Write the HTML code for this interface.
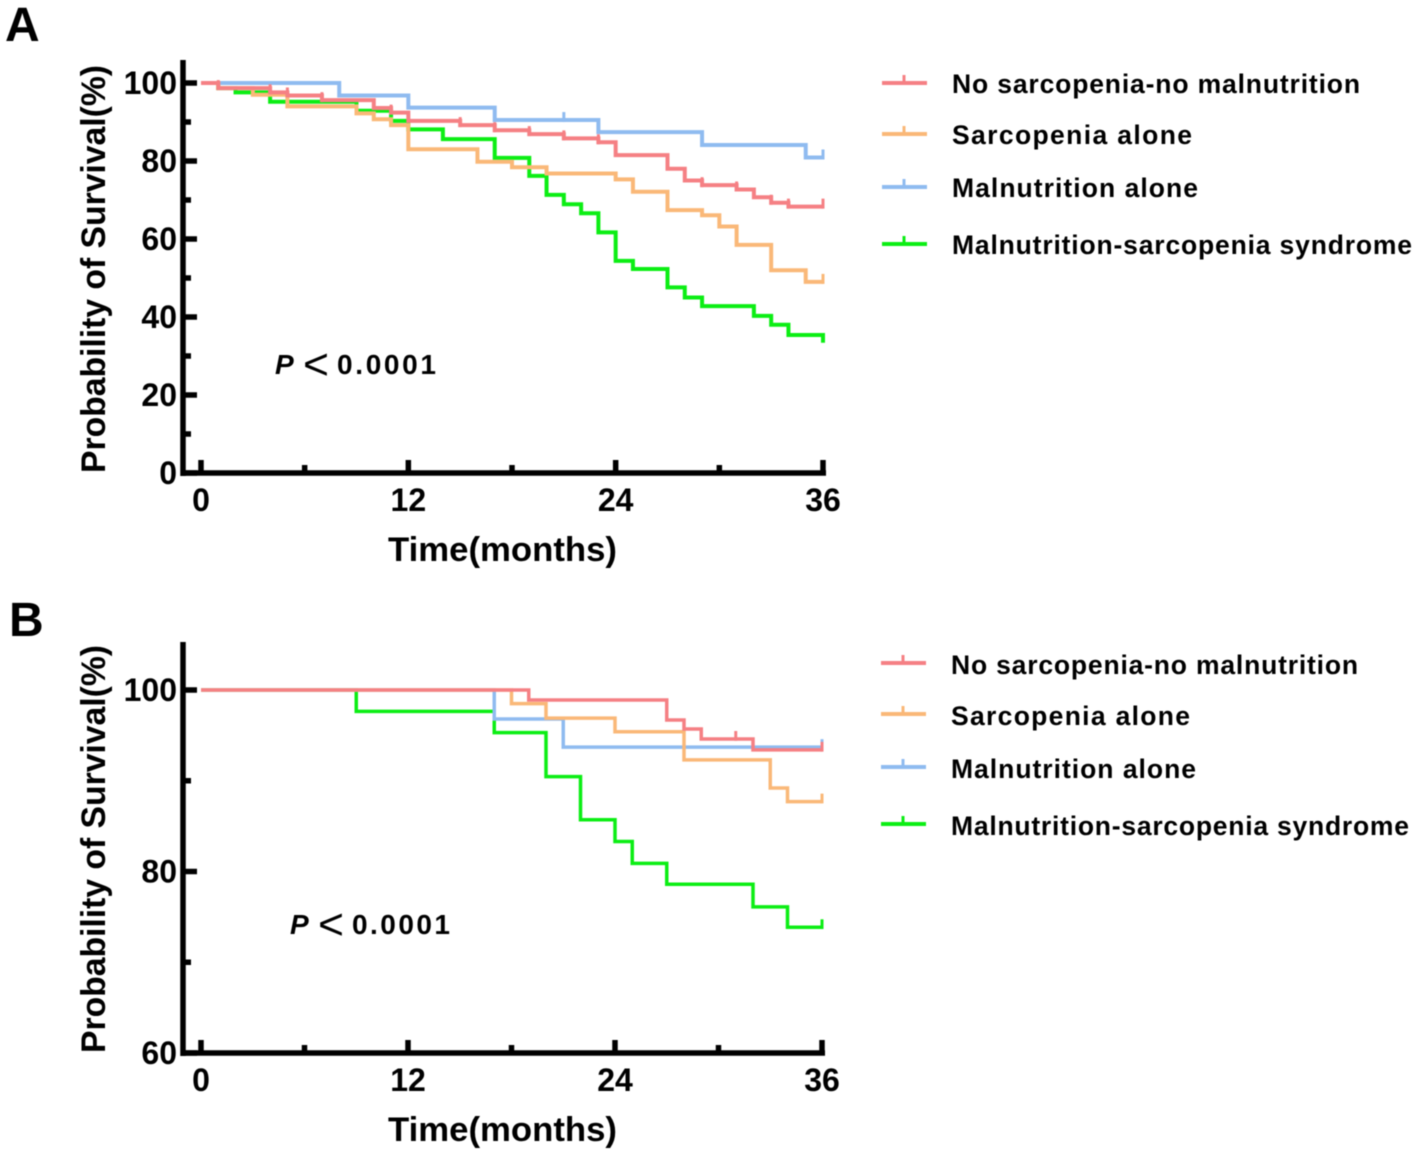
<!DOCTYPE html>
<html lang="en">
<head>
<meta charset="utf-8">
<title>Kaplan-Meier survival curves</title>
<style>
html,body{margin:0;padding:0;background:#fff;}
svg{display:block;filter:blur(0.45px);}
text{font-family:"Liberation Sans",Arial,sans-serif;fill:#000;}
.b{font-weight:bold;}
.axt{font-weight:bold;font-size:34px;}
.tick{font-weight:bold;font-size:32px;}
.leg{font-weight:bold;font-size:26.5px;}
.let{font-weight:bold;font-size:48px;}
</style>
</head>
<body>
<svg id="chart" width="1418" height="1156" viewBox="0 0 1418 1156" xmlns="http://www.w3.org/2000/svg">
  <rect width="1418" height="1156" fill="#fff"/>
  <g id="panel-a">
    <text class="let" x="5" y="41">A</text>
    <text class="axt" transform="translate(105,473) rotate(-90)" textLength="408" lengthAdjust="spacingAndGlyphs">Probability of Survival(%)</text>
    <text class="axt" x="388" y="561" textLength="229" lengthAdjust="spacingAndGlyphs">Time(months)</text>
    <g>
      <text class="b" x="275" y="374" font-size="28" font-style="italic">P</text>
      <text x="303" y="379" font-size="44" textLength="26" lengthAdjust="spacingAndGlyphs">&lt;</text>
      <text class="b" x="337" y="374" font-size="28" textLength="99">0.0001</text>
    </g>
  </g>
  <g id="panel-b">
    <text class="let" x="9" y="636">B</text>
    <text class="axt" transform="translate(105,1053) rotate(-90)" textLength="408" lengthAdjust="spacingAndGlyphs">Probability of Survival(%)</text>
    <text class="axt" x="388" y="1141" textLength="229" lengthAdjust="spacingAndGlyphs">Time(months)</text>
    <g>
      <text class="b" x="290" y="934" font-size="28" font-style="italic">P</text>
      <text x="318" y="939" font-size="44" textLength="26" lengthAdjust="spacingAndGlyphs">&lt;</text>
      <text class="b" x="352" y="934" font-size="28" textLength="98">0.0001</text>
    </g>
  </g>
</svg>
<script>
// ---- shared data ----
const seriesNames = ["Malnutrition-sarcopenia syndrome", "Malnutrition alone", "Sarcopenia alone", "No sarcopenia-no malnutrition"];
const seriesColors = ["#0cee14", "#8fbbf0", "#fab878", "#f58084"];
const xTickMonths = [0, 12, 24, 36];
const xMinorMonths = [6, 18, 30];

// ---- panel A data ----
const aYTicks = [0, 20, 40, 60, 80, 100];
const aYMinor = [10, 30, 50, 70, 90];
const aGreenTimes = [0, 1, 2, 4, 9, 11, 12, 14, 17, 19, 20, 21, 22, 23, 24, 25, 27, 28, 29, 32, 33, 34, 36];
const aGreenSurv = [100, 98.7, 97.6, 95.2, 92.9, 90.3, 88.1, 85.6, 80.8, 76.2, 71.3, 68.9, 66.6, 61.7, 54.4, 52.3, 47.6, 45, 42.8, 40.3, 38, 35.4, 33.4];
const aGreenCensor = [];
const aBlueTimes = [0, 8, 12, 17, 23, 29, 35];
const aBlueSurv = [100, 96.8, 93.7, 90.5, 87.4, 84.1, 80.9];
const aBlueCensor = [21, 36];
const aOrangeTimes = [0, 1, 3, 5, 9, 10, 11, 12, 16, 18, 20, 24, 25, 27, 29, 30, 31, 33, 35];
const aOrangeSurv = [100, 98.7, 97, 94, 92.2, 90.7, 89.2, 83, 79.8, 78.4, 76.8, 75.3, 72.1, 67.4, 66.1, 63.2, 58.5, 52, 49];
const aOrangeCensor = [36];
const aRedTimes = [0, 1, 4, 5, 7, 10, 11, 12, 15, 17, 19, 21, 23, 24, 27, 28, 29, 31, 32, 33, 34];
const aRedSurv = [100, 98.7, 97.6, 96.8, 95.6, 93.6, 92.4, 90.3, 89.2, 87.9, 86.9, 85.8, 84.8, 81.5, 78, 75, 73.8, 72.7, 70.7, 69.3, 68.3];
const aRedCensor = [1, 4, 5, 7, 10, 11, 15, 17, 19, 21, 23, 29, 31, 33, 34, 36];

// ---- panel B data ----
const bYTicks = [60, 80, 100];
const bYMinor = [70, 90];
const bGreenTimes = [0, 9, 17, 20, 22, 24, 25, 27, 32, 34];
const bGreenSurv = [100, 97.65, 95.3, 90.45, 85.7, 83.3, 80.9, 78.6, 76.1, 73.85];
const bGreenCensor = [36];
const bBlueTimes = [0, 17, 21];
const bBlueSurv = [100, 96.8, 93.7];
const bBlueCensor = [36];
const bOrangeTimes = [0, 18, 20, 24, 28, 33, 34];
const bOrangeSurv = [100, 98.5, 96.9, 95.4, 92.3, 89.2, 87.7];
const bOrangeCensor = [36];
const bRedTimes = [0, 19, 27, 28, 29, 32];
const bRedSurv = [100, 98.9, 96.7, 95.7, 94.6, 93.4];
const bRedCensor = [31, 36];

const NS = "http://www.w3.org/2000/svg";

function el(parent, tag, attrs, text) {
  const node = document.createElementNS(NS, tag);
  for (const k in attrs) node.setAttribute(k, attrs[k]);
  if (text !== undefined) node.textContent = text;
  parent.appendChild(node);
  return node;
}

// value of the step function at time m
function survivalAt(times, surv, m) {
  let v = surv[0];
  for (let i = 0; i < times.length; i++) if (times[i] <= m) v = surv[i];
  return v;
}

function drawPanel(cfg) {
  const root = document.getElementById(cfg.id);
  const x = m => cfg.x0 + m * (cfg.x36 - cfg.x0) / 36;
  const y = v => cfg.yBase - (v - cfg.vMin) * cfg.pxPerUnit;

  // axes
  const yAxis = el(root, "line", {x1: 183, x2: 183, y1: cfg.yTop, y2: cfg.yBase + 3, stroke: "#000", "stroke-width": 5.5});
  
  
  const xAxis = el(root, "line", {x1: 180.5, x2: cfg.x36 + 3, y1: cfg.yBase, y2: cfg.yBase, stroke: "#000", "stroke-width": 5.5});
  
  

  cfg.yTicks.forEach(v => {
    const t = el(root, "line", {x1: 183, x2: 197, y1: y(v), y2: y(v), stroke: "#000", "stroke-width": 5.5});
    
    
    const l = el(root, "text", {class: "tick", x: 177, y: y(v) + 11, "text-anchor": "end"}, String(v));
    
    
  });
  cfg.yMinor.forEach(v => {
    const t = el(root, "line", {x1: 183, x2: 191, y1: y(v), y2: y(v), stroke: "#000", "stroke-width": 5.5});
    
    
  });
  xTickMonths.forEach(m => {
    const t = el(root, "line", {x1: x(m), x2: x(m), y1: cfg.yBase, y2: cfg.yBase - 13, stroke: "#000", "stroke-width": 5.5});
    
    
    const l = el(root, "text", {class: "tick", x: x(m), y: cfg.yBase + 38, "text-anchor": "middle"}, String(m));
    
    
  });
  xMinorMonths.forEach(m => {
    const t = el(root, "line", {x1: x(m), x2: x(m), y1: cfg.yBase, y2: cfg.yBase - 8, stroke: "#000", "stroke-width": 5.5});
    
    
  });

  // curves
  cfg.series.forEach((s, i) => {
    const g = el(root, "g", {});
    
    
    let d = "M" + x(s.times[0]) + " " + y(s.surv[0]);
    for (let k = 1; k < s.times.length; k++) {
      d += "H" + x(s.times[k]) + "V" + y(s.surv[k]);
    }
    d += "H" + x(36);
    const p = el(g, "path", {d: d, fill: "none", stroke: seriesColors[i], "stroke-width": cfg.lw, "stroke-linejoin": "miter"});
    
    
    s.censor.forEach(m => {
      const yy = y(survivalAt(s.times, s.surv, m));
      const c = el(g, "line", {x1: x(m), x2: x(m), y1: yy + cfg.lw / 2, y2: yy - 8, stroke: seriesColors[i], "stroke-width": 3});
      
      
    });
  });

  // legend (drawn in reading order: red, orange, blue, green)
  [3, 2, 1, 0].forEach((si, row) => {
    const ly = cfg.legendY[row];
    const g = el(root, "g", {});
    
    
    const a = el(g, "line", {x1: cfg.legendX, x2: cfg.legendX + 45, y1: ly, y2: ly, stroke: seriesColors[si], "stroke-width": 4});
    
    
    const b = el(g, "line", {x1: cfg.legendX + 22, x2: cfg.legendX + 22, y1: ly, y2: ly - 8, stroke: seriesColors[si], "stroke-width": 3});
    
    
    const t = el(g, "text", {class: "leg", x: cfg.legendX + 70, y: cfg.legendTextY[row], textLength: cfg.legendW[row], lengthAdjust: "spacing"}, seriesNames[si]);
    
    
  });
}

drawPanel({
  id: "panel-a", x0: 201, x36: 823, yBase: 473, yTop: 60, vMin: 0, pxPerUnit: 3.9, lw: 4,
  yTicks: aYTicks, yMinor: aYMinor,
  legendX: 882, legendY: [83, 134, 187, 244], legendTextY: [93, 144, 197, 254], legendW: [408, 240, 246, 460],
  series: [
    {times: aGreenTimes, surv: aGreenSurv, censor: aGreenCensor},
    {times: aBlueTimes, surv: aBlueSurv, censor: aBlueCensor},
    {times: aOrangeTimes, surv: aOrangeSurv, censor: aOrangeCensor},
    {times: aRedTimes, surv: aRedSurv, censor: aRedCensor}
  ]
});
drawPanel({
  id: "panel-b", x0: 201, x36: 822, yBase: 1053, yTop: 642, vMin: 60, pxPerUnit: 9.075, lw: 3.5,
  yTicks: bYTicks, yMinor: bYMinor,
  legendX: 881, legendY: [663, 714, 767, 824], legendTextY: [674, 725, 778, 835], legendW: [407, 239, 245, 458],
  series: [
    {times: bGreenTimes, surv: bGreenSurv, censor: bGreenCensor},
    {times: bBlueTimes, surv: bBlueSurv, censor: bBlueCensor},
    {times: bOrangeTimes, surv: bOrangeSurv, censor: bOrangeCensor},
    {times: bRedTimes, surv: bRedSurv, censor: bRedCensor}
  ]
});
</script>
</body>
</html>
